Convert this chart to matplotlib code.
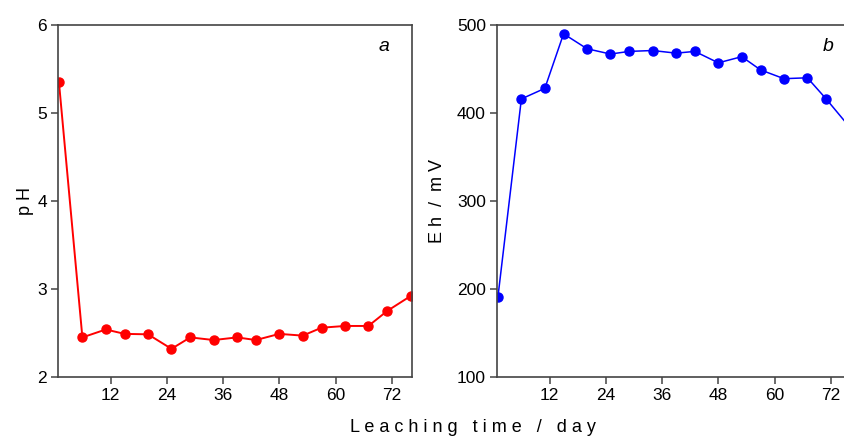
import matplotlib
matplotlib.use("Agg")
import matplotlib.pyplot as plt

plt.rcParams['font.family'] = ['Liberation Sans', 'DejaVu Sans']

days = [1, 6, 11, 15, 20, 25, 29, 34, 39, 43, 48, 53, 57, 62, 67, 71, 76]
ph = [5.35, 2.45, 2.54, 2.49, 2.485, 2.32, 2.45, 2.42, 2.45, 2.42, 2.49, 2.47,
      2.56, 2.58, 2.58, 2.75, 2.92]
eh = [191, 416, 428, 490, 473, 467, 470, 471, 468, 470, 457, 464, 449, 439, 440,
      416, 384]
xticks = [12, 24, 36, 48, 60, 72]

W, H = 844, 437
fig = plt.figure(figsize=(W / 100, H / 100), dpi=100)

def pos(x0, y0, x1, y1):
    return [x0 / W, 1 - y1 / H, (x1 - x0) / W, (y1 - y0) / H]

spine_c = '#444444'

def style(ax):
    for s in ax.spines.values():
        s.set_color(spine_c)
        s.set_linewidth(1.2)
    ax.tick_params(direction='out', length=5, width=1.1, color=spine_c,
                   labelsize=12.5, pad=3)
    ax.set_xticks(xticks)
    ax.set_xlim(0.8, 76.3)

ax1 = fig.add_axes(pos(58, 25, 412, 377))
ax1.plot(days, ph, color='#ff0000', lw=1.4, marker='o', ms=6.5)
ax1.set_ylim(2, 6)
ax1.set_yticks([2, 3, 4, 5, 6])
style(ax1)
ax1.set_ylabel('p H', fontsize=13, labelpad=2)
ax1.text(0.92, 0.94, 'a', transform=ax1.transAxes, fontsize=14,
         style='italic', ha='center', va='center')

ax2 = fig.add_axes(pos(497, 25, 851, 377))
ax2.plot(days, eh, color='#0000ff', lw=1.1, marker='o', ms=6.5, clip_on=True)
ax2.set_ylim(100, 500)
ax2.set_yticks([100, 200, 300, 400, 500])
style(ax2)
ax2.set_ylabel('E h  /  m V', fontsize=13, labelpad=8)
ax2.text(0.935, 0.94, 'b', transform=ax2.transAxes, fontsize=14,
         style='italic', ha='center', va='center')

fig.text(473 / W, 1 - 428 / H, 'L e a c h i n g   t i m e   /   d a y',
         fontsize=13, ha='center', va='center')

fig.savefig('out.png', dpi=100)
